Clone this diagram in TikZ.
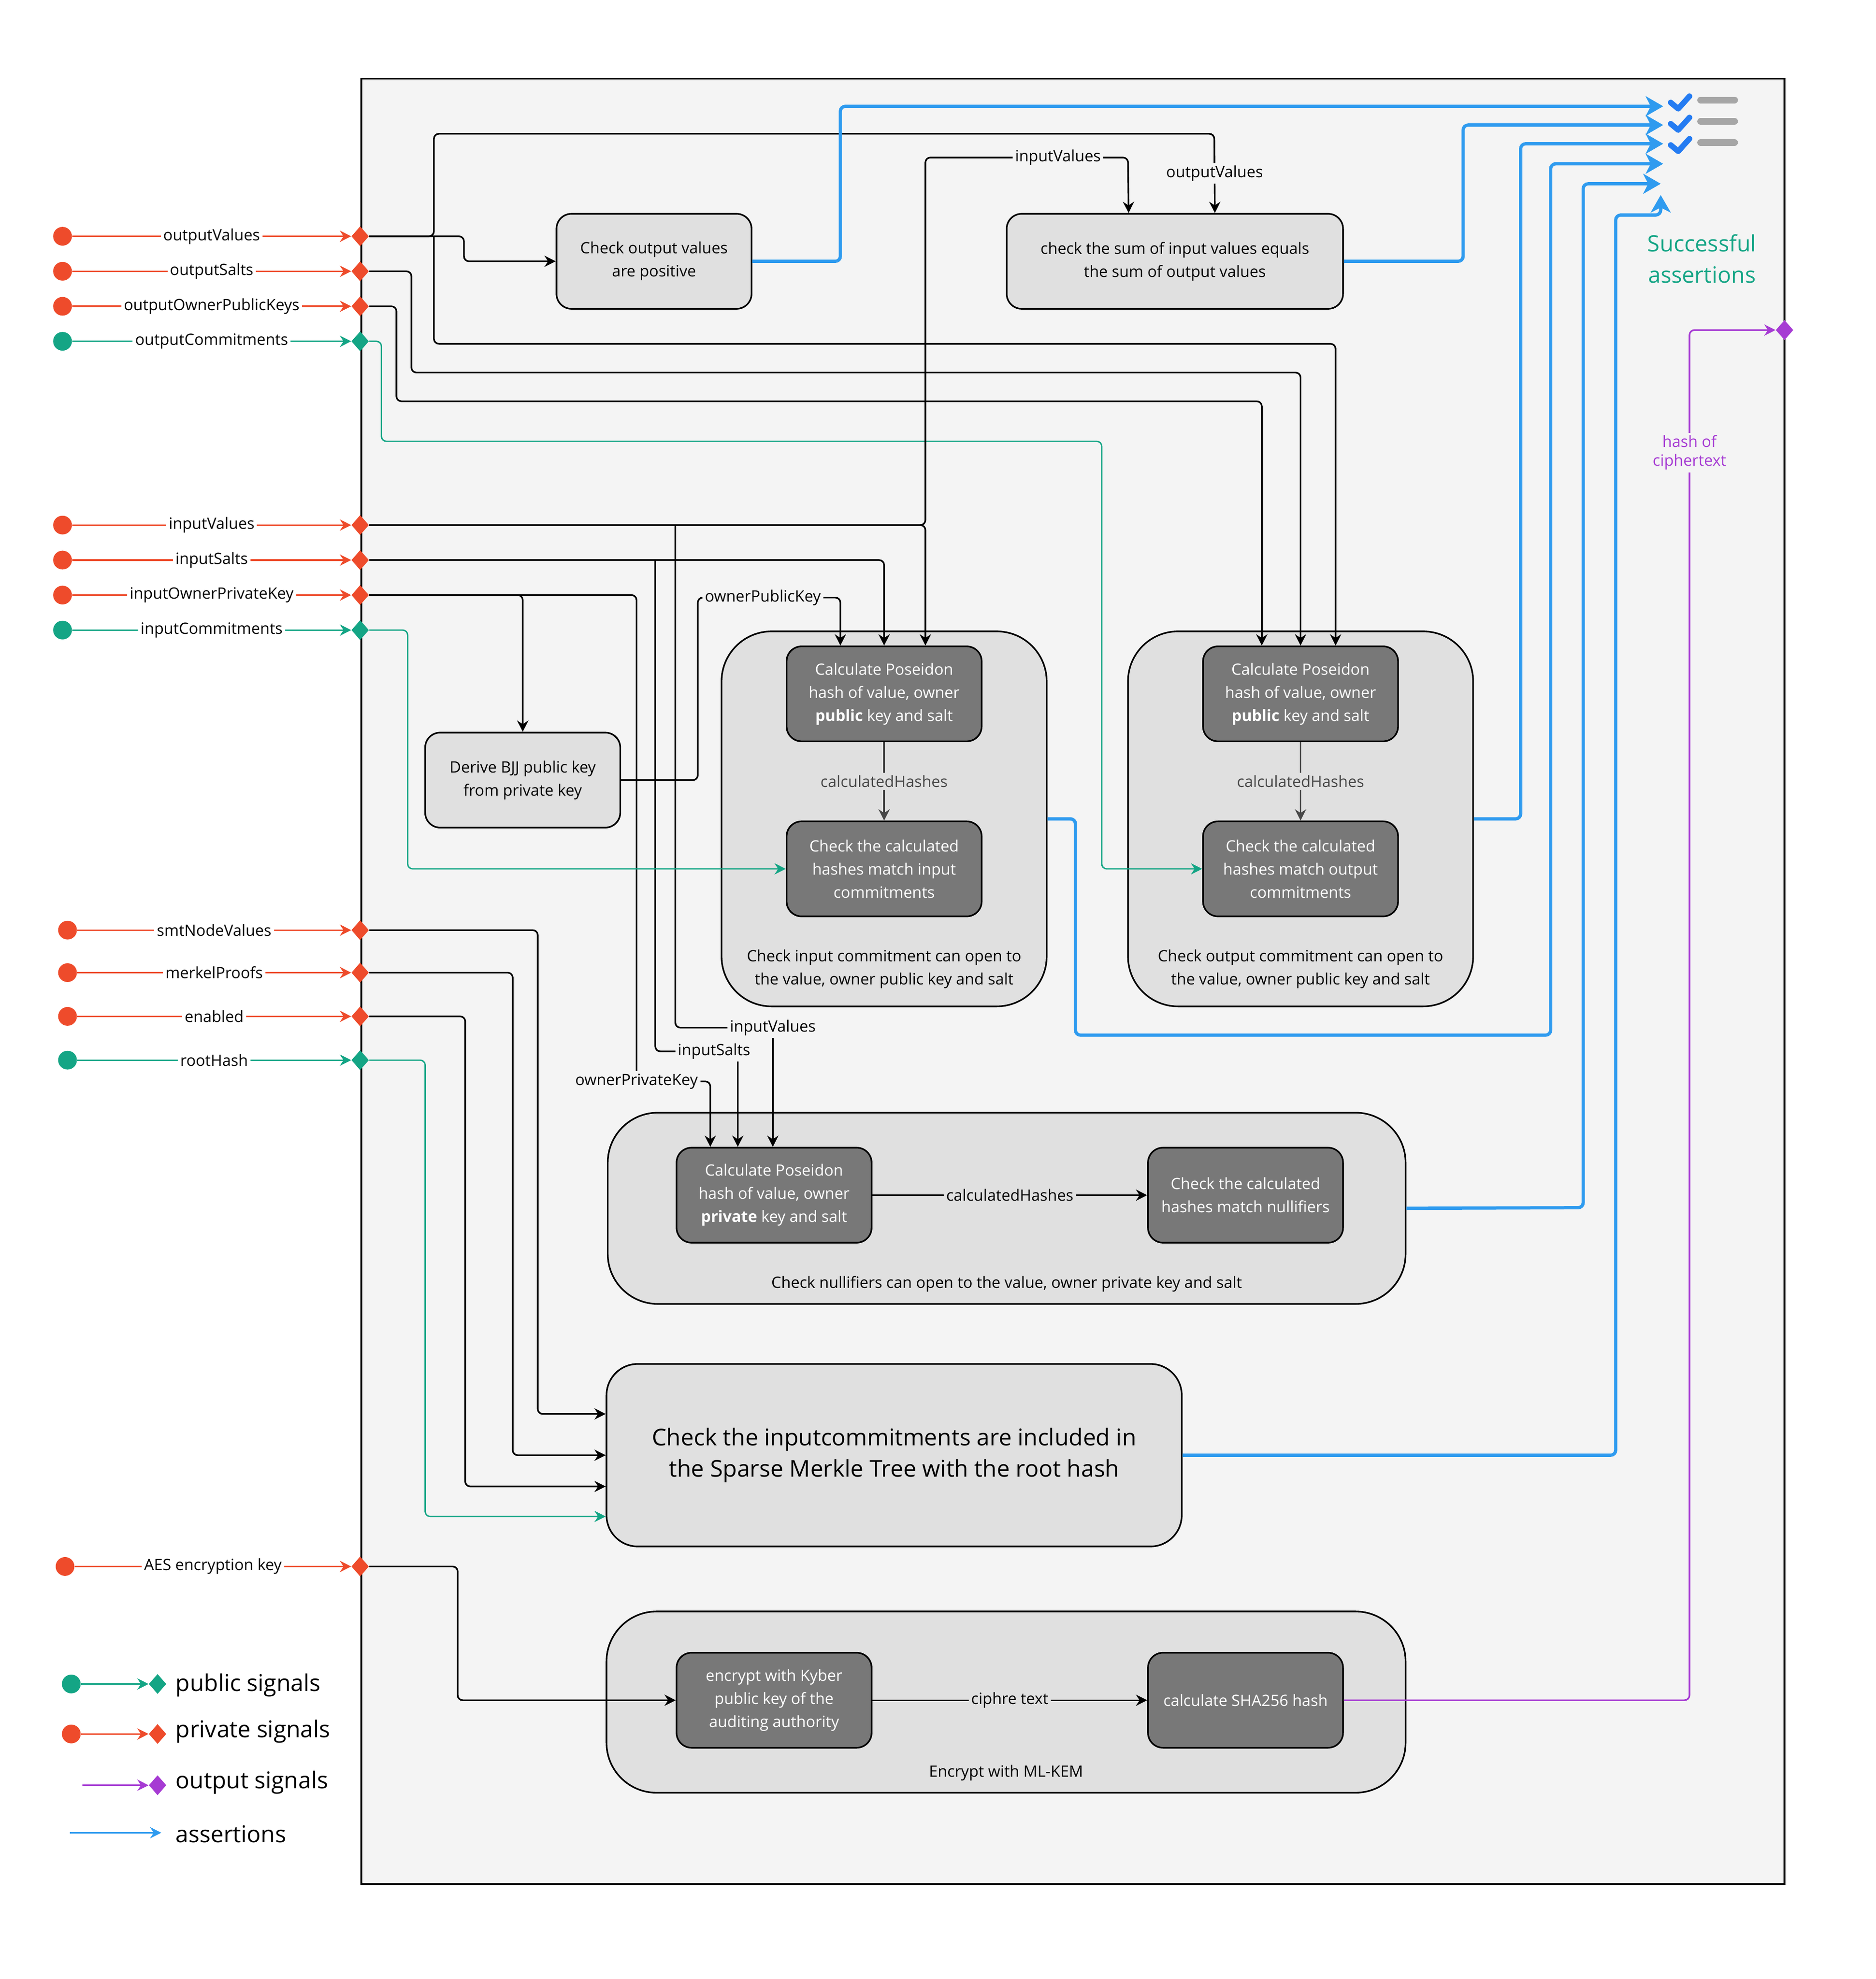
\documentclass[tikz,border=0pt]{standalone}
\usepackage{fontspec}
\setmainfont{Open Sans}
\usetikzlibrary{arrows.meta,shapes.geometric}
\definecolor{sigred}{HTML}{EE4B2B}
\definecolor{sigteal}{HTML}{14A585}
\definecolor{sigblue}{HTML}{2F9BEF}
\definecolor{sigpurple}{HTML}{A63BD3}
\definecolor{bgcol}{HTML}{F4F4F4}
\definecolor{boxcol}{HTML}{E0E0E0}
\definecolor{darkcol}{HTML}{787878}
\tikzset{
  dot/.style={circle,inner sep=0pt,minimum size=15},
  port/.style={diamond,inner sep=0pt,minimum width=14,minimum height=16},
  box/.style={draw,line width=1.3,rounded corners=12,fill=boxcol,align=center,minimum width=156,minimum height=76,font=\fontsize{12.5}{18.5}\selectfont},
  hbox/.style={box,fill=darkcol,text=white},
  cont/.style={draw,line width=1.3,rounded corners=40,fill=boxcol},
  wire/.style={line width=1.3,rounded corners=4,-{Stealth[length=9,width=9]}},
  lab/.style={fill=bgcol,inner sep=2pt,font=\fontsize{12.5}{15}\selectfont},
  assert/.style={sigblue,line width=2.6,rounded corners=4,-{Stealth[length=14,width=16,inset=4]}},
}
\begin{document}
\begin{tikzpicture}[x=1pt,y=-1pt]
\useasboundingbox[fill=white] (0,0) rectangle (1500,1583);
% frame
\draw[fill=bgcol,line width=1.5] (289,63) rectangle (1427,1507);

% signals
\foreach \n/\y/\t/\c/\x in {ov/189/outputValues/sigred/50, os/217/outputSalts/sigred/50,
  ok/245/outputOwnerPublicKeys/sigred/50, oc/273/outputCommitments/sigteal/50,
  iv/420/inputValues/sigred/50, is/448/inputSalts/sigred/50,
  ik/476/inputOwnerPrivateKey/sigred/50, ic/504/inputCommitments/sigteal/50,
  sn/744/smtNodeValues/sigred/54, mp/778/merkelProofs/sigred/54,
  en/813/enabled/sigred/54, rh/848/rootHash/sigteal/54, ae/1253/AES encryption key/sigred/52}{
  \node[dot,fill=\c] (c\n) at (\x,\y) {};
  \node[port,fill=\c] (p\n) at (288,\y) {};
  \draw[\c,line width=1.3,-{Stealth[length=9,width=9]}] (c\n) -- node[fill=white,text=black,inner sep=2pt,font=\fontsize{12.5}{15}\selectfont] {\t} (p\n.west);
}

% boxes
\node[box] (posbox) at (523,209) {Check output values\\are positive};
\node[box,minimum width=269] (sumbox) at (939.5,209) {check the sum of input values equals\\the sum of output values};
\node[box] (bjj) at (418,624) {Derive BJJ public key\\from private key};

\node[cont,minimum width=260,minimum height=300] (incont) at (707,655) {};
\node[hbox] (inhash) at (707,555) {Calculate Poseidon\\hash of value, owner\\\textbf{public} key and salt};
\node[hbox] (incheck) at (707,695) {Check the calculated\\hashes match input\\commitments};
\node[align=center,font=\fontsize{12.5}{18.5}\selectfont] (incap) at (707,775) {Check input commitment can open to\\the value, owner public key and salt};

\node[cont,minimum width=276,minimum height=300] (outcont) at (1040,655) {};
\node[hbox] (outhash) at (1040,555) {Calculate Poseidon\\hash of value, owner\\\textbf{public} key and salt};
\node[hbox] (outcheck) at (1040,695) {Check the calculated\\hashes match output\\commitments};
\node[align=center,font=\fontsize{12.5}{18.5}\selectfont] (outcap) at (1040,775) {Check output commitment can open to\\the value, owner public key and salt};

\node[cont,minimum width=638,minimum height=153] (nulcont) at (805,966.5) {};
\node[hbox] (nulhash) at (619,956) {Calculate Poseidon\\hash of value, owner\\\textbf{private} key and salt};
\node[hbox] (nulcheck) at (996,956) {Check the calculated\\hashes match nullifiers};
\node[font=\fontsize{12.5}{15}\selectfont] (nulcap) at (805,1027) {Check nullifiers can open to the value, owner private key and salt};

\node[box,rounded corners=25,minimum width=460,minimum height=146,font=\fontsize{18.5}{25}\selectfont] (smt) at (715,1164) {Check the inputcommitments are included in\\the Sparse Merkle Tree with the root hash};

\node[cont,minimum width=639,minimum height=145] (enc) at (804.5,1361.5) {};
\node[hbox] (kyber) at (619,1360) {encrypt with Kyber\\public key of the\\auditing authority};
\node[hbox] (sha) at (996,1360) {calculate SHA256 hash};
\node[font=\fontsize{12.5}{15}\selectfont] (enccap) at (804.5,1418) {Encrypt with ML-KEM};

% inner flows
\draw[wire,darkcol!60!black] (inhash) -- node[lab,fill=boxcol] {calculatedHashes} (incheck);
\draw[wire,darkcol!60!black] (outhash) -- node[lab,fill=boxcol] {calculatedHashes} (outcheck);
\draw[wire] (nulhash) -- node[lab,fill=boxcol] {calculatedHashes} (nulcheck);
\draw[wire] (kyber) -- node[lab,fill=boxcol] {ciphre text} (sha);

% output signals
\draw[wire] (pov.east) -- (371,189) -- (371,209) -- (posbox.west);
\draw[wire] (pov.east) -- (347,189) -- (347,107) -- (971,107) -- node[lab,pos=0.5] {outputValues} ([xshift=32]sumbox.north);
\draw[wire] (347,189) -- (347,275) -- (1068,275) -- ([xshift=28]outhash.north);
\draw[wire] (pos.east) -- (329,217) -- (329,298) -- (1040,298) -- (outhash.north);
\draw[wire] (pok.east) -- (317,245) -- (317,321) -- (1009,321) -- ([xshift=-31]outhash.north);
\draw[wire,sigteal,line width=1.1] (poc.east) -- (305,273) -- (305,353) -- (881,353) -- (881,695) -- (outcheck.west);

% input signals
\draw[wire] (piv.east) -- (740,420) -- (740,126) -- (902,126) -- ([xshift=-37]sumbox.north);
\node[lab] (ivlab) at (846,126) {inputValues};
\draw[wire] (piv.east) -- (740,420) -- ([xshift=33]inhash.north);
\draw[wire] (540,420) -- (540,822) -- (618,822) -- ([xshift=-1]nulhash.north);
\node[lab] (ivlab2) at (618,822) {inputValues};
\draw[wire] (pis.east) -- (707,448) -- (inhash.north);
\draw[wire] (524,448) -- (524,841) -- (590,841) -- ([xshift=-29]nulhash.north);
\node[lab] (islab) at (571,841) {inputSalts};
\draw[wire] (pik.east) -- (418,476) -- (bjj.north);
\draw[wire] (pik.east) -- (509,476) -- (509,865) -- (568,865) -- ([xshift=-51]nulhash.north);
\node[lab] (iklab) at (509,865) {ownerPrivateKey};
\draw[wire] (bjj.east) -- (558,624) -- (558,478) -- (672,478) -- ([xshift=-35]inhash.north);
\node[lab] (pklab) at (610,478) {ownerPublicKey};
\draw[wire,sigteal,line width=1.1] (pic.east) -- (326,504) -- (326,695) -- (incheck.west);

% merkle proof signals
\draw[wire] (psn.east) -- (430,744) -- (430,1131) -- (smt.west |- 0,1131);
\draw[wire] (pmp.east) -- (410,778) -- (410,1164) -- (smt.west);
\draw[wire] (pen.east) -- (372,813) -- (372,1189) -- (smt.west |- 0,1189);
\draw[wire,sigteal,line width=1.1] (prh.east) -- (340,848) -- (340,1213) -- (smt.west |- 0,1213);
\draw[wire] (pae.east) -- (366,1253) -- (366,1360) -- (kyber.west);

% assertions
\draw[assert] (posbox.east) -- (672,209) -- (672,85) -- (1330,85);
\draw[assert] (sumbox.east) -- (1170,209) -- (1170,100) -- (1330,100);
\draw[assert] (outcont.east) -- (1216,655) -- (1216,115) -- (1330,115);
\draw[assert] (incont.east) -- (860,655) -- (860,828) -- (1240,828) -- (1240,131) -- (1330,131);
\draw[assert] (nulcont.east) -- (1266,966) -- (1266,147) -- (1328,147);
\draw[assert] (smt.east) -- (1292,1164) -- (1292,172) -- (1328,172) -- (1328,156);
% checklist icon
\foreach \y in {82,99,116}{
  \draw[sigblue!80!blue,line width=4.5,line cap=round,line join=round] (1336,\y) -- (1342,\y+5) -- (1351,\y-5);
  \draw[gray!70,line width=5.5,line cap=round] (1360,\y-2) -- (1387,\y-2);
}
\node[text=sigteal,align=center,font=\fontsize{18}{25}\selectfont] (succ) at (1361,207) {Successful\\assertions};

% output signal
\node[port,fill=sigpurple] (pout) at (1427,264) {};
\draw[wire,sigpurple,line width=1.3] (sha.east) -- (1351,1360) -- (1351,264) -- (pout.west);
\node[lab,text=sigpurple,align=center] (hlab) at (1351,362) {hash of\\ciphertext};

% legend
\node[dot,fill=sigteal] (lc1) at (57,1347) {};
\node[port,fill=sigteal] (ld1) at (126,1347) {};
\draw[sigteal,line width=1.3,-{Stealth[length=9,width=9]}] (lc1) -- (ld1.west);
\node[anchor=west,font=\fontsize{18.5}{22}\selectfont] at (137,1348) {public signals};
\node[dot,fill=sigred] (lc2) at (57,1387) {};
\node[port,fill=sigred] (ld2) at (126,1387) {};
\draw[sigred,line width=1.3,-{Stealth[length=9,width=9]}] (lc2) -- (ld2.west);
\node[anchor=west,font=\fontsize{18.5}{22}\selectfont] at (137,1385) {private signals};
\coordinate (lc3) at (66,1428);
\node[port,fill=sigpurple] (ld3) at (126,1428) {};
\draw[sigpurple,line width=1.3,-{Stealth[length=9,width=9]}] (lc3) -- (ld3.west);
\node[anchor=west,font=\fontsize{18.5}{22}\selectfont] at (137,1426) {output signals};
\coordinate (lc4) at (56,1466);
\coordinate (ld4) at (129,1466);
\draw[sigblue,line width=1.3,-{Stealth[length=9,width=9]}] (lc4) -- (ld4);
\node[anchor=west,font=\fontsize{18.5}{22}\selectfont] at (137,1467) {assertions};
\end{tikzpicture}
\end{document}
